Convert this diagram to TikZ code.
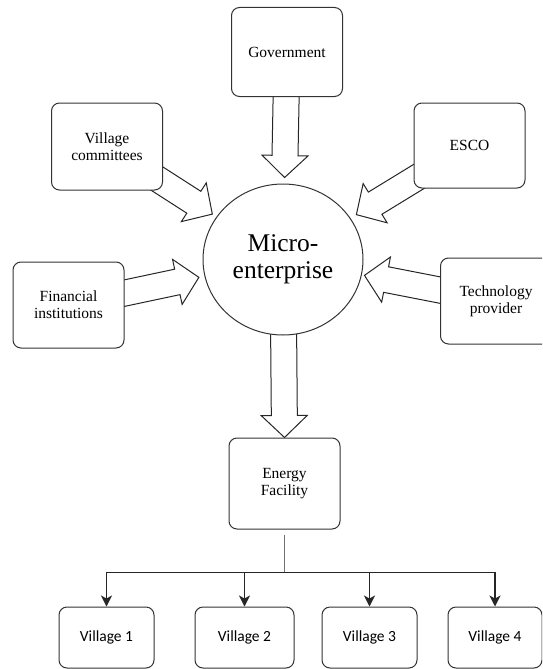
\documentclass[tikz,border=0pt]{standalone}
\usepackage{fontspec}
\setmainfont{Liberation Serif}
\newfontfamily\timesfont{Liberation Serif}
\newfontfamily\calfont{Carlito}
\usetikzlibrary{calc,shapes.geometric,arrows.meta,backgrounds}

\tikzset{
	box/.style={draw=black!80, line width=1pt, fill=white, rounded corners=8pt, align=center, inner sep=0pt, font=\timesfont\fontsize{15.5}{17}\selectfont},
	hub/.style={draw=black!80, line width=1pt, fill=white, ellipse, inner sep=0pt, minimum width=160pt, minimum height=151pt, align=center, font=\timesfont\fontsize{25.5}{27.5}\selectfont},
	vbox/.style={box, minimum height=61pt, font=\calfont\fontsize{15.5}{17}\selectfont},
	hollow/.style={draw=black!85, line width=1pt, fill=white, line join=miter},
	feed/.style={draw=black!85, line width=1.2pt, -{Stealth[length=11pt,width=11pt,inset=3pt]}}
}

\newcommand{\fatarrow}[2]{
	\path (#1) coordinate (FAa) (#2) coordinate (FAb);
	\coordinate (FAh) at ($(FAb)!22pt!(FAa)$);
	\draw[hollow] ($(FAa)!13pt!90:(FAb)$) -- ($(FAh)!13pt!90:(FAb)$) -- ($(FAh)!23pt!90:(FAb)$) -- (FAb) -- ($(FAh)!23pt!-90:(FAb)$) -- ($(FAh)!13pt!-90:(FAb)$) -- ($(FAa)!13pt!-90:(FAb)$) -- cycle;
}

\begin{document}
\begin{tikzpicture}[x=1pt, y=-1pt]
\clip (0,0) rectangle (542,669);

\pgfmathsetmacro{\bxW}{111}
\pgfmathsetmacro{\bxH}{87}
\pgfmathsetmacro{\vlY}{637.5}

\node[hub] (micro) at (283,259.5) {Micro-\\enterprise};

\node[box, minimum width=\bxW pt, minimum height=89pt] (gov) at (287,52) {Government};
\node[box, minimum width=\bxW pt, minimum height=\bxH pt] (vc) at (107,146.5) {Village\\committees};
\node[box, minimum width=\bxW pt, minimum height=85pt] (esco) at (469.5,145.5) {ESCO};
\node[box, minimum width=\bxW pt, minimum height=86pt] (fin) at (68.5,305) {Financial\\institutions};
\node[box, minimum width=\bxW pt, minimum height=86pt] (tech) at (496,301) {Technology\\provider};
\node[box, minimum width=\bxW pt, minimum height=91pt] (energy) at (284.5,483.5) {Energy\\Facility};

\node[vbox, minimum width=95pt] (v1) at (106.5,\vlY) {Village 1};
\node[vbox, minimum width=99pt] (v2) at (244.5,\vlY) {Village 2};
\node[vbox, minimum width=95pt] (v3) at (369.5,\vlY) {Village 3};
\node[vbox, minimum width=94pt] (v4) at (495,\vlY) {Village 4};

\begin{scope}[on background layer]
\foreach \src/\gap in {gov/82pt, vc/84pt, esco/86pt, fin/86pt, tech/83pt}
	\fatarrow{\src.center}{$(micro.center)!\gap!(\src.center)$};
\fatarrow{micro.center}{energy.north}
\end{scope}

\coordinate (split) at ($(energy.south)+(0,43)$);
\draw[black!55, line width=0.8pt] ($(energy.south)+(0,5)$) -- (split);
\foreach \v in {v1,v2,v3,v4}
	\draw[feed] (split) -| (\v.north);
\end{tikzpicture}
\end{document}
